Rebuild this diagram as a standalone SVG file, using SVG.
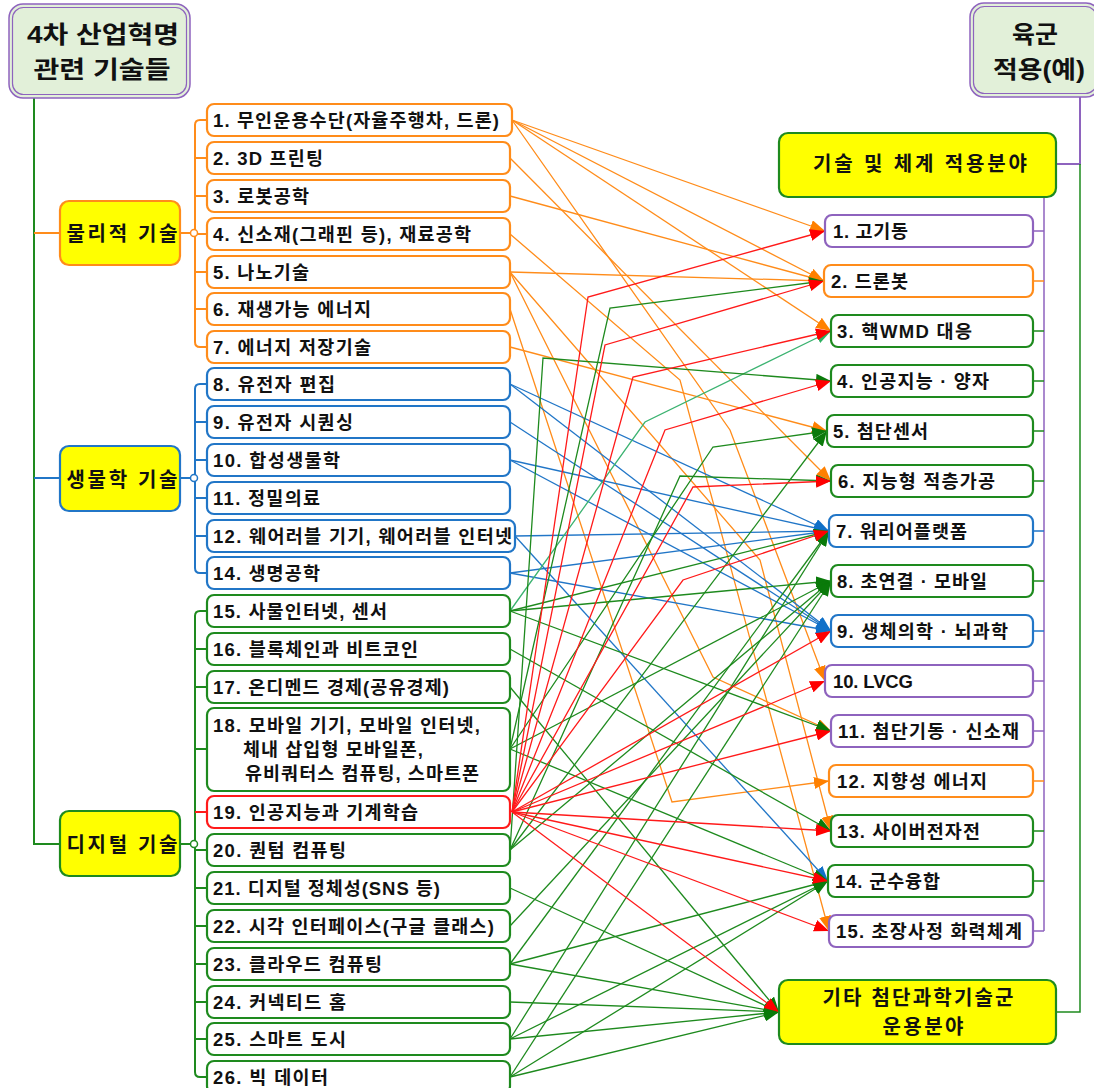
<svg xmlns="http://www.w3.org/2000/svg" width="1094" height="1088" viewBox="0 0 1094 1088">
<style>
.t{font-family:"Liberation Sans","Noto Sans CJK KR",sans-serif;font-weight:bold;font-size:18.5px;fill:#111}
.tg{font-size:20px}
.tt{font-size:24px}
.th{font-size:20px}
.box{fill:#fff;stroke-width:2.2}
.grp{fill:#ffff00;stroke-width:2.2}
.so{stroke:#FF8C1A}.sb{stroke:#2176C7}.sg{stroke:#1E8A1E}.sr{stroke:#FF1A1A}.sp{stroke:#8E63BE}
.ln{fill:none;stroke-width:1.3}
.lo{stroke:#FF8C1A;marker-end:url(#ao)}
.lb{stroke:#2176C7;marker-end:url(#ab)}
.lg{stroke:#1E8A1E;marker-end:url(#ag)}
.lr{stroke:#FF1A1A;marker-end:url(#ar)}
.ll{stroke:#3CB371;marker-end:url(#al)}
.br{fill:none;stroke-width:2}
.ttl{fill:#e2f0d9;stroke:#8E63BE;stroke-width:1.5}
</style>
<defs>
<marker id="ao" markerUnits="userSpaceOnUse" markerWidth="15" markerHeight="12" refX="15" refY="6" orient="auto"><path d="M0,0 L15,6 L0,12 z" fill="#FF8000"/></marker>
<marker id="ab" markerUnits="userSpaceOnUse" markerWidth="15" markerHeight="12" refX="15" refY="6" orient="auto"><path d="M0,0 L15,6 L0,12 z" fill="#1070C8"/></marker>
<marker id="ag" markerUnits="userSpaceOnUse" markerWidth="15" markerHeight="12" refX="15" refY="6" orient="auto"><path d="M0,0 L15,6 L0,12 z" fill="#0A7A0A"/></marker>
<marker id="ar" markerUnits="userSpaceOnUse" markerWidth="15" markerHeight="12" refX="15" refY="6" orient="auto"><path d="M0,0 L15,6 L0,12 z" fill="#FF0000"/></marker>
<marker id="al" markerUnits="userSpaceOnUse" markerWidth="15" markerHeight="12" refX="15" refY="6" orient="auto"><path d="M0,0 L15,6 L0,12 z" fill="#2EB060"/></marker>
</defs>
<rect width="1094" height="1088" fill="#fff"/>

<g id="tree">
<path class="br sg" d="M34,98 V844 H60"/>
<path class="br so" d="M34,233 H60"/>
<path class="br sb" d="M34,478 H60"/>
<path class="br so" d="M180,233 H191 M207,120 H200 Q195,120 195,125 V342 Q195,347 200,347 H207 M195,158 H207 M195,196 H207 M195,234 H207 M195,272 H207 M195,309 H207"/>
<path class="br sb" d="M180,478 H191 M207,384 H200 Q195,384 195,389 V568 Q195,573 200,573 H207 M195,422 H207 M195,460 H207 M195,498 H207 M195,536 H207"/>
<path class="br sg" d="M180,844 H191 M207,611 H200 Q195,611 195,616 V1072 Q195,1077 200,1077 H207 M195,649 H207 M195,687 H207 M195,749 H207 M195,850 H207 M195,888 H207 M195,926 H207 M195,964 H207 M195,1002 H207 M195,1039 H207"/>
<path class="br sr" d="M207,812 H195"/>
<circle cx="194" cy="233" r="3.5" fill="#fff" stroke="#FF8C1A" stroke-width="1.5"/>
<circle cx="194" cy="478" r="3.5" fill="#fff" stroke="#2176C7" stroke-width="1.5"/>
<circle cx="194" cy="844" r="3.5" fill="#fff" stroke="#1E8A1E" stroke-width="1.5"/>
<path class="br sp" d="M1080,97 V164 H1056"/>
<path class="br sg" style="stroke-width:1.5" d="M1080,164 V1012 H1056"/>
<path class="br sp" style="stroke-width:1.5" d="M1044,197 V931 M1033,231 H1044 M1033,681 H1044 M1033,731 H1044 M1033,931 H1044"/>
<path class="br so" style="stroke-width:1.5" d="M1033,281 H1044 M1033,781 H1044"/>
<path class="br sg" style="stroke-width:1.5" d="M1033,331 H1044 M1033,381 H1044 M1033,431 H1044 M1033,481 H1044 M1033,581 H1044 M1033,831 H1044 M1033,881 H1044"/>
<path class="br sb" style="stroke-width:1.5" d="M1033,531 H1044 M1033,631 H1044"/>
</g>

<g id="connectors">
<path class="ln lo" d="M512,120 L825,231"/>
<path class="ln lo" d="M512,120 L824,281"/>
<path class="ln lo" d="M512,120 L831,331"/>
<path class="ln lo" d="M512,120 L730,430 L825,681"/>
<path class="ln lo" d="M510,158 L831,481"/>
<path class="ln lo" d="M510,196 L824,281"/>
<path class="ln lo" d="M510,234 L680,380 L829,931"/>
<path class="ln lo" d="M510,272 L824,281"/>
<path class="ln lo" d="M510,272 L713,677 L831,731"/>
<path class="ln lo" d="M510,272 L760,560 L831,831"/>
<path class="ln lo" d="M510,309 L672,802 L829,781"/>
<path class="ln lo" d="M510,347 L827,431"/>

<path class="ln lb" d="M510,384 L829,531"/>
<path class="ln lb" d="M510,384 L831,631"/>
<path class="ln lb" d="M510,422 L831,631"/>
<path class="ln lb" d="M510,460 L829,531"/>
<path class="ln lb" d="M510,460 L831,631"/>
<path class="ln lb" d="M515,536 L829,531"/>
<path class="ln lb" d="M515,536 L828,881"/>
<path class="ln lb" d="M510,573 L829,531"/>
<path class="ln lb" d="M510,573 L831,631"/>

<path class="ln ll" d="M510,611 L645,422 L831,331"/>
<path class="ln lg" d="M510,611 L829,531"/>
<path class="ln lg" d="M510,611 L831,581"/>
<path class="ln lg" d="M510,611 L831,731"/>
<path class="ln lg" d="M510,649 L831,831"/>
<path class="ln lg" d="M510,687 L779,1012"/>
<path class="ln lg" d="M510,749 L610,308 L824,281"/>
<path class="ln lg" d="M510,749 L713,447 L827,431"/>
<path class="ln lg" d="M510,749 L831,581"/>
<path class="ln lg" d="M510,749 L828,881"/>
<path class="ln lg" d="M510,850 L543,358 L831,381"/>
<path class="ln lg" d="M510,850 L827,431"/>
<path class="ln lg" d="M510,850 L680,476 L831,481"/>
<path class="ln lg" d="M510,850 L831,581"/>
<path class="ln lg" d="M510,888 L779,1012"/>
<path class="ln lg" d="M510,926 L831,581"/>
<path class="ln lg" d="M510,964 L829,531"/>
<path class="ln lg" d="M510,964 L828,881"/>
<path class="ln lg" d="M510,964 L779,1012"/>
<path class="ln lg" d="M510,1002 L779,1012"/>
<path class="ln lg" d="M510,1039 L829,531"/>
<path class="ln lg" d="M510,1039 L828,881"/>
<path class="ln lg" d="M510,1039 L779,1012"/>
<path class="ln lg" d="M510,1077 L831,581"/>
<path class="ln lg" d="M510,1077 L828,881"/>
<path class="ln lg" d="M510,1077 L779,1012"/>

<path class="ln lr" d="M512,812 L588,297 L825,231"/>
<path class="ln lr" d="M512,812 L605,345 L824,281"/>
<path class="ln lr" d="M512,812 L633,377 L831,331"/>
<path class="ln lr" d="M512,812 L665,430 L831,381"/>
<path class="ln lr" d="M512,812 L693,487 L831,481"/>
<path class="ln lr" d="M512,812 L683,580 L829,531"/>
<path class="ln lr" d="M512,812 L831,631"/>
<path class="ln lr" d="M512,812 L825,681"/>
<path class="ln lr" d="M512,812 L831,731"/>
<path class="ln lr" d="M512,812 L831,831"/>
<path class="ln lr" d="M512,812 L828,881"/>
<path class="ln lr" d="M512,812 L829,931"/>
<path class="ln lr" d="M512,812 L779,1012"/>
</g>

<g id="title-left">
<rect x="9" y="4" width="181" height="94" rx="14" class="ttl"/>
<rect x="12.5" y="7.5" width="174" height="87" rx="11" fill="none" stroke="#8E63BE" stroke-width="1.2"/>
<text class="t tt" x="103" y="43" text-anchor="middle" textLength="152" lengthAdjust="spacingAndGlyphs">4차 산업혁명</text>
<text class="t tt" x="102" y="78" text-anchor="middle" textLength="137" lengthAdjust="spacingAndGlyphs">관련 기술들</text>
</g>
<g id="title-right">
<rect x="970" y="3" width="130" height="94" rx="14" class="ttl"/>
<rect x="973.5" y="6.5" width="123" height="87" rx="11" fill="none" stroke="#8E63BE" stroke-width="1.2"/>
<text class="t tt" x="1035" y="43" text-anchor="middle" textLength="46" lengthAdjust="spacingAndGlyphs">육군</text>
<text class="t tt" x="1039" y="78" text-anchor="middle" textLength="92" lengthAdjust="spacingAndGlyphs">적용(예)</text>
</g>

<g id="g-phys"><rect x="60" y="201" width="120" height="64" rx="9" class="grp so"/><text class="t tg" x="122" y="241" text-anchor="middle" textLength="111">물리적 기술</text></g>
<g id="g-bio"><rect x="60" y="446" width="120" height="65" rx="9" class="grp sb"/><text class="t tg" x="122" y="487" text-anchor="middle" textLength="111">생물학 기술</text></g>
<g id="g-dig"><rect x="60" y="811" width="120" height="65" rx="9" class="grp sg"/><text class="t tg" x="122" y="852" text-anchor="middle" textLength="111">디지털 기술</text></g>

<g id="n1"><rect x="207" y="104" width="305" height="32" rx="7" class="box so"/><text class="t" x="213" y="127" textLength="286">1. 무인운용수단(자율주행차, 드론)</text></g>
<g id="n2"><rect x="207" y="142" width="303" height="32" rx="7" class="box so"/><text class="t" x="213" y="165" textLength="110">2. 3D 프린팅</text></g>
<g id="n3"><rect x="207" y="180" width="303" height="32" rx="7" class="box so"/><text class="t" x="213" y="203" textLength="96">3. 로봇공학</text></g>
<g id="n4"><rect x="207" y="218" width="303" height="32" rx="7" class="box so"/><text class="t" x="213" y="241" textLength="258">4. 신소재(그래핀 등), 재료공학</text></g>
<g id="n5"><rect x="207" y="256" width="303" height="32" rx="7" class="box so"/><text class="t" x="213" y="279" textLength="96">5. 나노기술</text></g>
<g id="n6"><rect x="207" y="293" width="303" height="32" rx="7" class="box so"/><text class="t" x="213" y="316" textLength="158">6. 재생가능 에너지</text></g>
<g id="n7"><rect x="207" y="331" width="303" height="32" rx="7" class="box so"/><text class="t" x="213" y="354" textLength="158">7. 에너지 저장기술</text></g>
<g id="n8"><rect x="207" y="368" width="303" height="32" rx="7" class="box sb"/><text class="t" x="213" y="391" textLength="122">8. 유전자 편집</text></g>
<g id="n9"><rect x="207" y="406" width="303" height="32" rx="7" class="box sb"/><text class="t" x="213" y="429" textLength="140">9. 유전자 시퀀싱</text></g>
<g id="n10"><rect x="207" y="444" width="303" height="32" rx="7" class="box sb"/><text class="t" x="213" y="467" textLength="127">10. 합성생물학</text></g>
<g id="n11"><rect x="207" y="482" width="303" height="32" rx="7" class="box sb"/><text class="t" x="213" y="505" textLength="107">11. 정밀의료</text></g>
<g id="n12"><rect x="207" y="520" width="308" height="32" rx="7" class="box sb"/><text class="t" x="213" y="543" textLength="299">12. 웨어러블 기기, 웨어러블 인터넷</text></g>
<g id="n14"><rect x="207" y="557" width="303" height="32" rx="7" class="box sb"/><text class="t" x="213" y="580" textLength="107">14. 생명공학</text></g>
<g id="n15"><rect x="207" y="595" width="303" height="32" rx="7" class="box sg"/><text class="t" x="213" y="618" textLength="174">15. 사물인터넷, 센서</text></g>
<g id="n16"><rect x="207" y="633" width="303" height="32" rx="7" class="box sg"/><text class="t" x="213" y="656" textLength="205">16. 블록체인과 비트코인</text></g>
<g id="n17"><rect x="207" y="671" width="303" height="32" rx="7" class="box sg"/><text class="t" x="213" y="694" textLength="236">17. 온디멘드 경제(공유경제)</text></g>
<g id="n18"><rect x="207" y="708" width="303" height="83" rx="7" class="box sg"/><text class="t" x="213" y="732" textLength="267">18. 모바일 기기, 모바일 인터넷,</text><text class="t" x="243" y="756" textLength="180">체내 삽입형 모바일폰,</text><text class="t" x="245" y="780" textLength="234">유비쿼터스 컴퓨팅, 스마트폰</text></g>
<g id="n19"><rect x="207" y="796" width="303" height="32" rx="7" class="box sr"/><text class="t" x="213" y="819" textLength="205">19. 인공지능과 기계학습</text></g>
<g id="n20"><rect x="207" y="834" width="303" height="32" rx="7" class="box sg"/><text class="t" x="213" y="857" textLength="133">20. 퀀텀 컴퓨팅</text></g>
<g id="n21"><rect x="207" y="872" width="303" height="32" rx="7" class="box sg"/><text class="t" x="213" y="895" textLength="227">21. 디지털 정체성(SNS 등)</text></g>
<g id="n22"><rect x="207" y="910" width="303" height="32" rx="7" class="box sg"/><text class="t" x="213" y="933" textLength="281">22. 시각 인터페이스(구글 클래스)</text></g>
<g id="n23"><rect x="207" y="948" width="303" height="32" rx="7" class="box sg"/><text class="t" x="213" y="971" textLength="169">23. 클라우드 컴퓨팅</text></g>
<g id="n24"><rect x="207" y="986" width="303" height="32" rx="7" class="box sg"/><text class="t" x="213" y="1009" textLength="133">24. 커넥티드 홈</text></g>
<g id="n25"><rect x="207" y="1023" width="303" height="32" rx="7" class="box sg"/><text class="t" x="213" y="1046" textLength="133">25. 스마트 도시</text></g>
<g id="n26"><rect x="207" y="1061" width="303" height="32" rx="7" class="box sg"/><text class="t" x="213" y="1084" textLength="115">26. 빅 데이터</text></g>

<g id="r-head"><rect x="779" y="133" width="277" height="64" rx="9" class="grp sg"/><text class="t th" x="920" y="171" text-anchor="middle" textLength="214">기술 및 체계 적용분야</text></g>
<g id="t1"><rect x="825" y="215" width="208" height="32" rx="7" class="box sp"/><text class="t" x="833" y="238" textLength="75">1. 고기동</text></g>
<g id="t2"><rect x="824" y="265" width="209" height="32" rx="7" class="box so"/><text class="t" x="831" y="288" textLength="77">2. 드론봇</text></g>
<g id="t3"><rect x="831" y="315" width="202" height="32" rx="7" class="box sg"/><text class="t" x="837" y="338" textLength="135">3. 핵WMD 대응</text></g>
<g id="t4"><rect x="831" y="365" width="202" height="32" rx="7" class="box sg"/><text class="t" x="837" y="388" textLength="152">4. 인공지능 · 양자</text></g>
<g id="t5"><rect x="827" y="415" width="206" height="32" rx="7" class="box sg"/><text class="t" x="833" y="438" textLength="95">5. 첨단센서</text></g>
<g id="t6"><rect x="831" y="465" width="202" height="32" rx="7" class="box sg"/><text class="t" x="838" y="488" textLength="157">6. 지능형 적층가공</text></g>
<g id="t7"><rect x="829" y="515" width="204" height="32" rx="7" class="box sb"/><text class="t" x="836" y="538" textLength="131">7. 워리어플랫폼</text></g>
<g id="t8"><rect x="831" y="565" width="202" height="32" rx="7" class="box sg"/><text class="t" x="837" y="588" textLength="150">8. 초연결 · 모바일</text></g>
<g id="t9"><rect x="831" y="615" width="202" height="32" rx="7" class="box sb"/><text class="t" x="837" y="638" textLength="171">9. 생체의학 · 뇌과학</text></g>
<g id="t10"><rect x="825" y="665" width="208" height="32" rx="7" class="box sp"/><text class="t" x="833" y="688" textLength="80">10. LVCG</text></g>
<g id="t11"><rect x="831" y="715" width="202" height="32" rx="7" class="box sp"/><text class="t" x="838" y="738" textLength="181">11. 첨단기동 · 신소재</text></g>
<g id="t12"><rect x="829" y="765" width="204" height="32" rx="7" class="box so"/><text class="t" x="837" y="788" textLength="150">12. 지향성 에너지</text></g>
<g id="t13"><rect x="831" y="815" width="202" height="32" rx="7" class="box sg"/><text class="t" x="837" y="838" textLength="143">13. 사이버전자전</text></g>
<g id="t14"><rect x="828" y="865" width="205" height="32" rx="7" class="box sg"/><text class="t" x="835" y="888" textLength="105">14. 군수융합</text></g>
<g id="t15"><rect x="829" y="915" width="204" height="32" rx="7" class="box sp"/><text class="t" x="836" y="938" textLength="186">15. 초장사정 화력체계</text></g>
<g id="r-other"><rect x="779" y="980" width="277" height="64" rx="9" class="grp sg"/><text class="t th" x="918" y="1005" text-anchor="middle" textLength="191">기타 첨단과학기술군</text><text class="t th" x="923" y="1034" text-anchor="middle" textLength="81">운용분야</text></g>
</svg>
